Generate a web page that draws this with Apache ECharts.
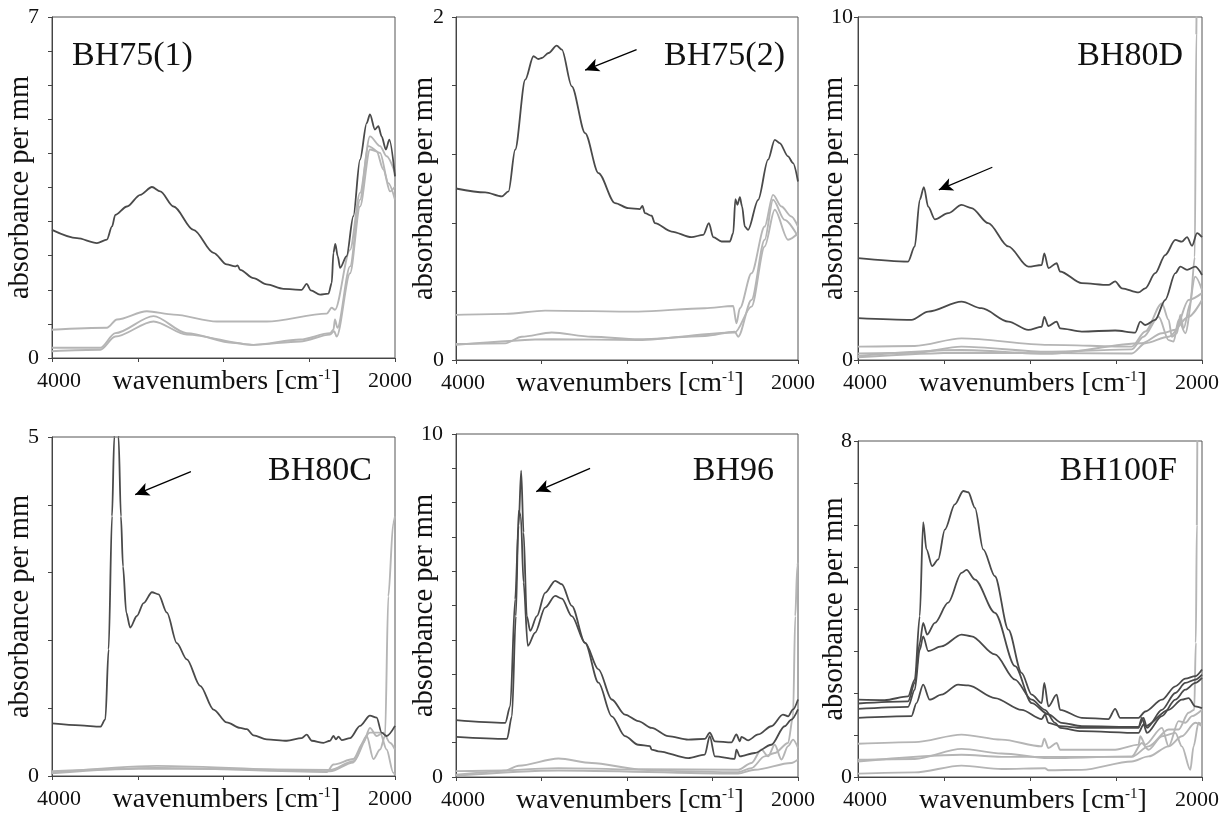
<!DOCTYPE html>
<html><head><meta charset="utf-8">
<script src="https://cdn.jsdelivr.net/npm/echarts@6/dist/echarts.min.js"></script>
<style>html,body{margin:0;padding:0;background:#fff}#c{width:1227px;height:816px}</style>
</head><body><div id="c"></div>
<script>
// ---- data: [wavenumber cm-1, absorbance per mm] ----
const panelNames = ['BH75(1)','BH75(2)','BH80D','BH80C','BH96','BH100F'];
const yMax = [7, 2, 10, 5, 10, 8];
const yStep = [0.7, 0.4, 2, 1, 1, 1];
const xTickLabels = ['4000','2000'];

const p1Dark = [[4000,2.63],[3854,2.46],[3738,2.36],[3680,2.43],[3650,2.70],[3631,2.94],[3563,3.11],[3485,3.35],[3417,3.51],[3369,3.42],[3291,3.11],[3175,2.63],[3058,2.16],[2981,1.92],[2932,1.88],[2918,1.90],[2903,1.81],[2825,1.64],[2748,1.51],[2650,1.42],[2544,1.40],[2515,1.52],[2491,1.39],[2437,1.30],[2388,1.32],[2369,1.54],[2359,2.16],[2348,2.34],[2334,2.09],[2320,1.85],[2282,2.09],[2243,2.91],[2204,4.07],[2165,4.82],[2146,5.00],[2117,4.69],[2097,4.76],[2078,4.55],[2053,4.28],[2033,4.48],[2000,3.73]];
const p1Light1 = [[4000,0.58],[3680,0.62],[3621,0.79],[3447,0.96],[3291,0.89],[3039,0.75],[2748,0.75],[2398,0.91],[2369,1.03],[2350,0.99],[2262,2.22],[2204,3.39],[2146,4.55],[2087,4.35],[2049,4.14],[2000,3.80]];
const p1Light2 = [[4000,0.21],[3718,0.21],[3631,0.51],[3408,0.86],[3214,0.51],[2942,0.31],[2825,0.27],[2553,0.38],[2379,0.51],[2359,0.58],[2350,0.79],[2336,0.62],[2262,1.88],[2204,3.25],[2155,4.35],[2087,4.21],[2039,3.59],[2000,3.25]];
const p1Light3 = [[4000,0.14],[3718,0.17],[3631,0.44],[3408,0.75],[3214,0.48],[2825,0.27],[2553,0.34],[2379,0.48],[2355,0.55],[2340,0.44],[2262,1.74],[2204,3.11],[2146,4.28],[2107,4.24],[2068,3.87],[2029,3.42],[2000,3.52]];

const p2Dark = [[4000,1.00],[3829,0.977],[3732,0.954],[3693,0.983],[3654,1.226],[3595,1.635],[3547,1.771],[3518,1.755],[3498,1.761],[3459,1.790],[3411,1.833],[3381,1.810],[3323,1.596],[3245,1.323],[3167,1.090],[3070,0.915],[2992,0.885],[2924,0.880],[2910,0.899],[2895,0.856],[2856,0.841],[2837,0.798],[2739,0.749],[2623,0.716],[2554,0.730],[2521,0.798],[2496,0.716],[2447,0.691],[2399,0.691],[2379,0.739],[2366,0.938],[2354,0.905],[2340,0.950],[2327,0.895],[2311,0.778],[2292,0.759],[2233,0.934],[2175,1.168],[2136,1.284],[2107,1.265],[2058,1.187],[2029,1.148],[2000,1.041]];
const p2Light1 = [[4000,0.263],[3712,0.269],[3479,0.288],[2934,0.282],[2545,0.302],[2379,0.315],[2360,0.214],[2340,0.302],[2272,0.506],[2195,0.778],[2146,0.963],[2097,0.895],[2039,0.837],[2000,0.778]];
const p2Light2 = [[4000,0.093],[3712,0.097],[3615,0.136],[3440,0.160],[3206,0.136],[2934,0.121],[2545,0.140],[2370,0.165],[2350,0.136],[2272,0.350],[2195,0.701],[2146,0.934],[2078,0.817],[2000,0.720]];
const p2Light3 = [[4000,0.088],[3440,0.121],[2934,0.117],[2370,0.160],[2272,0.311],[2195,0.662],[2136,0.876],[2058,0.701],[2000,0.739]];
const p2Arrow = [[2944,1.81],[3245,1.69]];

const p3Dark1 = [[4000,2.97],[3709,2.87],[3670,3.31],[3641,4.67],[3617,5.04],[3592,4.47],[3553,4.10],[3476,4.28],[3398,4.52],[3340,4.43],[3243,3.99],[3126,3.31],[3010,2.72],[2932,2.77],[2917,3.11],[2893,2.68],[2845,2.82],[2825,2.58],[2699,2.24],[2544,2.19],[2505,2.29],[2466,2.09],[2369,1.97],[2330,2.09],[2272,2.53],[2214,3.06],[2155,3.50],[2117,3.45],[2087,3.58],[2058,3.33],[2029,3.70],[2000,3.58]];
const p3Dark2 = [[4000,1.22],[3689,1.17],[3592,1.41],[3398,1.70],[3282,1.51],[3126,1.12],[3010,0.88],[2932,0.97],[2917,1.26],[2893,0.99],[2845,1.12],[2825,0.92],[2699,0.83],[2505,0.86],[2388,0.80],[2359,1.12],[2330,1.02],[2272,1.17],[2214,1.75],[2155,2.53],[2126,2.72],[2087,2.63],[2039,2.72],[2000,2.48]];
const p3Light1 = [[4000,0.39],[3670,0.41],[3398,0.63],[2893,0.44],[2408,0.39],[2330,0.83],[2233,1.65],[2194,1.17],[2175,0.68],[2146,0.78],[2126,1.31],[2107,0.92],[2068,1.65],[2042,3.0],[2033,9.5],[2028,12.5]];
const p3Light2 = [[4000,0.19],[3670,0.21],[3398,0.39],[2893,0.24],[2408,0.31],[2340,0.68],[2252,1.26],[2194,0.58],[2165,0.54],[2136,1.17],[2097,0.78],[2039,2.43],[2000,2.04]];
const p3Light3 = [[4000,0.12],[3398,0.29],[2893,0.18],[2350,0.49],[2233,0.78],[2155,0.88],[2078,1.75],[2000,1.95]];
const p3Light4 = [[4000,0.08],[3398,0.21],[2408,0.19],[2330,0.49],[2194,0.68],[2078,1.26],[2000,1.75]];
const p3Arrow = [[3219,5.62],[3530,4.96]];

const p4Dark = [[4000,0.776],[3835,0.747],[3718,0.727],[3689,0.835],[3670,1.867],[3650,3.831],[3637,5.0],[3625,6.5],[3612,5.0],[3598,3.83],[3586,3.09],[3567,2.41],[3544,2.19],[3505,2.36],[3466,2.55],[3417,2.71],[3379,2.68],[3330,2.41],[3272,1.96],[3214,1.72],[3136,1.33],[3058,0.98],[2981,0.79],[2903,0.71],[2864,0.69],[2825,0.60],[2748,0.54],[2631,0.52],[2544,0.56],[2515,0.61],[2485,0.52],[2417,0.49],[2379,0.52],[2359,0.59],[2344,0.54],[2330,0.58],[2311,0.53],[2262,0.56],[2204,0.74],[2146,0.89],[2107,0.86],[2078,0.64],[2049,0.59],[2000,0.74]];
const p4Light1 = [[4000,0.04],[3388,0.12],[2398,0.06],[2359,0.17],[2243,0.25],[2185,0.49],[2146,0.71],[2107,0.59],[2068,0.64],[2029,0.49],[2000,0.39]];
const p4Light2 = [[4000,0.05],[3388,0.15],[2379,0.07],[2243,0.20],[2165,0.59],[2126,0.25],[2087,0.39],[2058,0.59],[2039,2.65],[2010,3.73],[2000,3.83]];
const p4Light3 = [[4000,0.07],[3388,0.11],[2379,0.09],[2243,0.22],[2146,0.64],[2087,0.64],[2049,0.39],[2010,0.05],[2000,0.02]];
const p4Arrow = [[3190,4.49],[3515,4.15]];

const p5Dark1 = [[4000,1.66],[3712,1.58],[3683,2.06],[3654,5.18],[3634,7.32],[3619,8.93],[3605,7.13],[3586,4.69],[3566,4.26],[3527,4.69],[3479,5.37],[3420,5.72],[3381,5.62],[3323,4.99],[3245,3.91],[3167,2.75],[3089,1.77],[3012,1.19],[2934,0.94],[2866,0.90],[2856,0.80],[2817,0.75],[2642,0.55],[2545,0.65],[2516,1.19],[2486,0.60],[2370,0.53],[2360,0.80],[2340,0.60],[2253,0.70],[2156,0.94],[2078,1.48],[2039,1.67],[2000,1.97]];
const p5Dark2 = [[4000,1.17],[3702,1.11],[3673,1.77],[3650,4.69],[3634,7.76],[3621,7.61],[3605,5.67],[3580,3.82],[3537,4.21],[3479,4.94],[3420,5.28],[3381,5.20],[3323,4.69],[3245,3.91],[3167,3.14],[3089,2.26],[3012,1.82],[2934,1.63],[2856,1.43],[2759,1.19],[2642,1.09],[2545,1.11],[2516,1.29],[2486,1.04],[2389,1.01],[2360,1.24],[2340,1.04],[2331,1.17],[2292,1.07],[2233,1.24],[2156,1.48],[2088,1.82],[2058,1.77],[2029,1.97],[2000,2.26]];
const p5Light1 = [[4000,0.17],[3712,0.19],[3634,0.33],[3401,0.54],[3206,0.41],[2934,0.23],[2350,0.21],[2272,0.41],[2214,0.80],[2175,0.60],[2136,0.94],[2097,0.51],[2058,0.90],[2029,1.09],[2000,0.85]];
const p5Light2 = [[4000,0.07],[3401,0.26],[2350,0.14],[2272,0.26],[2195,0.60],[2136,0.70],[2058,0.99],[2029,1.77],[2016,4.69],[2004,6.15],[2000,6.25]];
const p5Light3 = [[4000,0.04],[3401,0.19],[2350,0.10],[2253,0.21],[2039,0.41],[2000,0.51]];
const p5Arrow = [[3216,9.0],[3531,8.32]];

const p6Dark1 = [[4000,1.84],[3845,1.83],[3709,1.92],[3670,2.32],[3641,3.83],[3621,6.07],[3602,5.42],[3569,5.02],[3534,5.18],[3495,5.89],[3437,6.49],[3388,6.81],[3359,6.78],[3320,6.41],[3272,5.42],[3204,4.78],[3126,3.51],[3049,2.48],[2990,1.96],[2932,1.76],[2917,2.24],[2893,1.68],[2845,1.96],[2825,1.60],[2699,1.41],[2544,1.38],[2505,1.62],[2476,1.41],[2369,1.41],[2330,1.56],[2233,1.84],[2155,2.16],[2097,2.34],[2039,2.40],[2000,2.56]];
const p6Dark2 = [[4000,1.75],[3709,1.80],[3670,2.24],[3641,3.19],[3621,3.67],[3598,3.39],[3553,3.67],[3476,4.15],[3398,4.86],[3369,4.93],[3320,4.70],[3204,3.91],[3087,2.64],[2990,1.76],[2893,1.49],[2816,1.29],[2699,1.21],[2369,1.19],[2340,1.41],[2320,1.17],[2233,1.60],[2155,2.00],[2097,2.24],[2039,2.32],[2000,2.44]];
const p6Dark3 = [[4000,1.62],[3709,1.67],[3670,2.08],[3641,3.03],[3621,3.35],[3592,3.00],[3515,3.11],[3398,3.39],[3340,3.35],[3204,2.92],[3087,2.32],[2990,1.84],[2913,1.60],[2854,1.29],[2825,1.17],[2699,1.09],[2369,1.05],[2340,1.25],[2320,1.05],[2233,1.45],[2155,1.84],[2097,2.08],[2039,2.24],[2000,2.36]];
const p6Dark4 = [[4000,1.41],[3689,1.45],[3660,1.76],[3621,2.20],[3583,1.84],[3515,1.96],[3418,2.20],[3359,2.18],[3204,1.88],[3049,1.60],[2932,1.38],[2913,1.49],[2893,1.29],[2825,1.21],[2699,1.17],[2369,1.17],[2350,1.41],[2330,1.21],[2194,1.60],[2117,1.84],[2078,1.88],[2039,1.68],[2000,1.64]];
const p6Light1 = [[4000,0.79],[3670,0.83],[3398,1.01],[3165,0.89],[2932,0.73],[2917,0.91],[2893,0.69],[2845,0.81],[2825,0.65],[2505,0.65],[2369,0.77],[2359,0.97],[2330,0.77],[2233,1.17],[2194,0.73],[2136,1.33],[2097,1.29],[2058,1.45],[2000,1.60]];
const p6Light2 = [[4000,0.41],[3670,0.43],[3398,0.67],[3165,0.56],[2893,0.45],[2408,0.49],[2350,0.81],[2311,0.65],[2233,0.97],[2155,1.05],[2117,0.73],[2068,0.17],[2049,0.73],[2020,1.29],[2000,1.25]];
const p6Light3 = [[4000,0.37],[3398,0.53],[3165,0.48],[2408,0.48],[2311,0.73],[2194,1.13],[2136,1.13],[2078,1.53],[2045,1.60],[2036,3.2],[2030,6.0],[2026,9.5]];
const p6Light4 = [[4000,0.08],[3670,0.11],[3398,0.27],[3165,0.19],[2913,0.21],[2893,0.16],[2699,0.17],[2408,0.37],[2311,0.49],[2194,0.73],[2117,0.97],[2039,1.29],[2000,1.21]];

// ---- layout / style ----
const FONT = "'Liberation Serif','Times New Roman',serif";
const DARK = '#4a4a4a', LIGHT = '#b5b5b5';
const panels = [
  {grid:{left:52, top:17, width:343, height:341}, dark:[p1Dark], light:[p1Light1,p1Light2,p1Light3], arrow:null, title:{left:72, top:39}, yGap:17, lblMargin:13},
  {grid:{left:456, top:17, width:342, height:343}, dark:[p2Dark], light:[p2Light1,p2Light2,p2Light3], arrow:p2Arrow, title:{right:442, top:39}, yGap:17, lblMargin:12},
  {grid:{left:858, top:17, width:344, height:343}, dark:[p3Dark1,p3Dark2], light:[p3Light1,p3Light2,p3Light3,p3Light4], arrow:p3Arrow, title:{right:44, top:39}, yGap:9, lblMargin:5},
  {grid:{left:52, top:437, width:343, height:339}, dark:[p4Dark], light:[p4Light1,p4Light2,p4Light3], arrow:p4Arrow, title:{right:855, top:454}, yGap:17, lblMargin:13},
  {grid:{left:456, top:434, width:342, height:343}, dark:[p5Dark1,p5Dark2], light:[p5Light1,p5Light2,p5Light3], arrow:p5Arrow, title:{right:453, top:454}, yGap:17, lblMargin:13},
  {grid:{left:858, top:441, width:344, height:336}, dark:[p6Dark1,p6Dark2,p6Dark3,p6Dark4], light:[p6Light1,p6Light2,p6Light3,p6Light4], arrow:null, title:{right:50, top:454}, yGap:9, lblMargin:6}
];

const option = {animation:false, backgroundColor:'#fff', title:[], grid:[], xAxis:[], yAxis:[], series:[]};
panels.forEach((p, i) => {
  const max = yMax[i];
  option.title.push(Object.assign({text: panelNames[i], padding:0,
    textStyle:{fontFamily:FONT, fontSize:34, fontWeight:'normal', color:'#111'}}, p.title));
  option.grid.push(Object.assign({show:true, borderColor:'#555', borderWidth:1, backgroundColor:'transparent'}, p.grid));
  option.xAxis.push({type:'value', gridIndex:i, min:2000, max:4000, interval:500, inverse:true,
    axisLine:{lineStyle:{color:'#444', width:1}}, axisTick:{show:true, length:4, lineStyle:{color:'#444'}},
    splitLine:{show:false},
    axisLabel:{margin:12, fontFamily:FONT, fontSize:22, color:'#111',
      formatter: v => (v===4000 ? '{lo|' + xTickLabels[0] + '}' : (v===2000 ? '{hi|' + xTickLabels[1] + '}' : '')),
      rich:{lo:{fontFamily:FONT, fontSize:22, color:'#111', padding:[0,0,0,14]},
            hi:{fontFamily:FONT, fontSize:22, color:'#111', padding:[0,10,0,0]}}},
    name:'wavenumbers [cm{sup|-1}]', nameLocation:'middle', nameGap:10, nameMoveOverlap:false,
    nameTextStyle:{fontFamily:FONT, fontSize:28, color:'#111', verticalAlign:'top', padding:[0,0,0,6],
      rich:{sup:{fontFamily:FONT, fontSize:15, color:'#111', verticalAlign:'top', lineHeight:14}}}
  });
  option.yAxis.push({type:'value', gridIndex:i, min:0, max:max, interval:yStep[i],
    axisLine:{show:true, lineStyle:{color:'#444', width:1}}, axisTick:{show:true, length:4, lineStyle:{color:'#444'}},
    splitLine:{show:false},
    axisLabel:{margin:p.lblMargin, fontFamily:FONT, fontSize:22, color:'#111', showMaxLabel:true,
      formatter: v => (Math.abs(v) < 1e-9 ? '0' : (Math.abs(v-max) < 1e-6 ? String(max) : ''))},
    name:'absorbance per mm', nameLocation:'middle', nameGap:p.yGap, nameRotate:90, nameMoveOverlap:false,
    nameTextStyle:{fontFamily:FONT, fontSize:28.5, color:'#111'}
  });
  p.light.forEach(d => option.series.push({type:'line', xAxisIndex:i, yAxisIndex:i, data:d, showSymbol:false,
    symbol:'none', clip:true, smooth:0.3, smoothMonotone:'x', lineStyle:{color:LIGHT, width:1.9}, z:2}));
  p.dark.forEach((d, k) => {
    const s = {type:'line', xAxisIndex:i, yAxisIndex:i, data:d, showSymbol:false, symbol:'none', clip:true,
      smooth:0.3, smoothMonotone:'x', lineStyle:{color:DARK, width:1.8}, z:3};
    if (k===0 && p.arrow) {
      s.markLine = {silent:true, symbol:['none','arrow'], symbolSize:[10,14], animation:false,
        lineStyle:{color:'#000', width:1.3, type:'solid'}, label:{show:false},
        data:[[{coord:p.arrow[0]},{coord:p.arrow[1]}]]};
    }
    option.series.push(s);
  });
});
const chart = echarts.init(document.getElementById('c'), null, {renderer:'canvas'});
chart.setOption(option);
</script></body></html>
